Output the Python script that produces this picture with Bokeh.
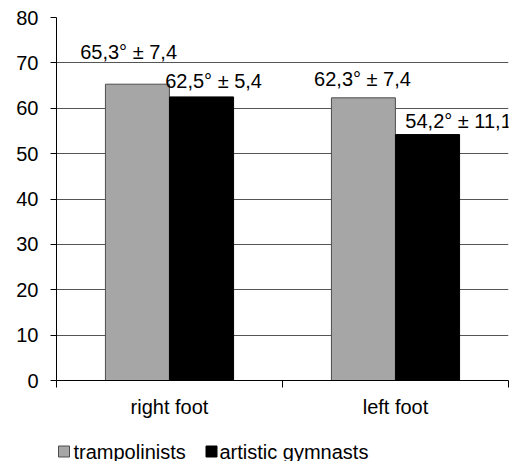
from bokeh.plotting import figure
from bokeh.layouts import column
from bokeh.models import ColumnDataSource, FixedTicker, Range1d
from bokeh.core.properties import value
from bokeh.embed import file_html
from bokeh.resources import INLINE

categories = ["right foot", "left foot"]
series_names = ["trampolinists", "artistic gymnasts"]
trampolinists = [65.3, 62.3]
trampolinists_sd = [7.4, 7.4]
gymnasts = [62.5, 54.2]
gymnasts_sd = [5.4, 11.1]
y_ticks = [0, 10, 20, 30, 40, 50, 60, 70, 80]

FONT = "Liberation Sans"
FS = "20px"
GRAY = "#a6a6a6"
GRAY_LINE = "#4d4d4d"
BLACK = "#000000"

def fmt(v):
    return ("%.1f" % v).replace(".", ",")

cx = [i + 0.5 for i in range(len(categories))]
bw = 0.283
off = 0.142

p = figure(width=512, height=438, output_backend="svg", toolbar_location=None,
           x_range=Range1d(0, len(categories)), y_range=Range1d(0, 80),
           min_border_left=56, min_border_right=4, min_border_top=17, min_border_bottom=58)
p.outline_line_color = None
p.background_fill_color = "white"

src_t = ColumnDataSource(dict(x=[c - off for c in cx], top=trampolinists))
src_g = ColumnDataSource(dict(x=[c + off for c in cx], top=gymnasts))
p.vbar(x="x", top="top", width=bw, source=src_t, fill_color=GRAY,
       line_color=GRAY_LINE, line_width=1)
p.vbar(x="x", top="top", width=bw, source=src_g, fill_color=BLACK,
       line_color=BLACK, line_width=1)

# value labels
lab_x = [cx[0] - 0.181, cx[0] + 0.195, cx[1] - 0.146, cx[1] + 0.279]
lab_y = [72.5, 65.9, 66.4, 57.3]
texts = []
for i in range(len(categories)):
    texts.append("%s° ± %s" % (fmt(trampolinists[i]), fmt(trampolinists_sd[i])))
    texts.append("%s° ± %s" % (fmt(gymnasts[i]), fmt(gymnasts_sd[i])))
p.text(x=lab_x, y=lab_y, text=texts, text_align="center", text_baseline="middle",
       text_font=value(FONT), text_font_size=FS, text_color=BLACK)

# axes
p.yaxis.ticker = FixedTicker(ticks=y_ticks)
p.yaxis.axis_line_color = BLACK
p.yaxis.major_tick_line_color = BLACK
p.yaxis.major_tick_out = 6
p.yaxis.major_tick_in = 0
p.yaxis.minor_tick_line_color = None
p.yaxis.major_label_text_font = FONT
p.yaxis.major_label_text_font_size = FS
p.yaxis.major_label_text_color = BLACK
p.yaxis.major_label_standoff = 12

p.xaxis.ticker = FixedTicker(ticks=cx, minor_ticks=[0, 1, 2])
p.xaxis.major_label_overrides = {c: categories[i] for i, c in enumerate(cx)}
p.xaxis.axis_line_color = BLACK
p.xaxis.major_tick_line_color = None
p.xaxis.major_tick_out = 0
p.xaxis.minor_tick_line_color = BLACK
p.xaxis.minor_tick_out = 7
p.xaxis.minor_tick_in = 0
p.xaxis.major_label_text_font = FONT
p.xaxis.major_label_text_font_size = FS
p.xaxis.major_label_text_color = BLACK
p.xaxis.major_label_standoff = 8

p.xgrid.grid_line_color = None
p.ygrid.ticker = FixedTicker(ticks=y_ticks)
p.ygrid.grid_line_color = "#555555"
p.ygrid.grid_line_width = 1

# legend strip below the chart; its frame is aligned with the chart's frame,
# so its x range is expressed in page pixels of that frame (56..508)
LH = 23
lf = figure(width=512, height=LH, output_backend="svg", toolbar_location=None,
            x_range=Range1d(56, 508), y_range=Range1d(0, LH),
            x_axis_location=None, y_axis_location=None,
            min_border=0, min_border_left=0, min_border_right=0,
            min_border_top=0, min_border_bottom=0)
lf.outline_line_color = None
lf.grid.visible = False
leg_glyph_x = [63.5, 211.0]
leg_text_x = [73.0, 219.0]
leg_y = 10.0
lf.scatter(x=leg_glyph_x, y=[leg_y, leg_y], marker="square", size=11,
           fill_color=[GRAY, BLACK], line_color=[GRAY_LINE, BLACK], line_width=1)
lf.text(x=leg_text_x, y=[leg_y, leg_y], text=series_names, text_align="left",
        text_baseline="middle", text_font=value(FONT), text_font_size=FS,
        text_color=BLACK)

layout = column(p, lf, spacing=0)
open("out.html", "w").write(file_html(layout, INLINE))
